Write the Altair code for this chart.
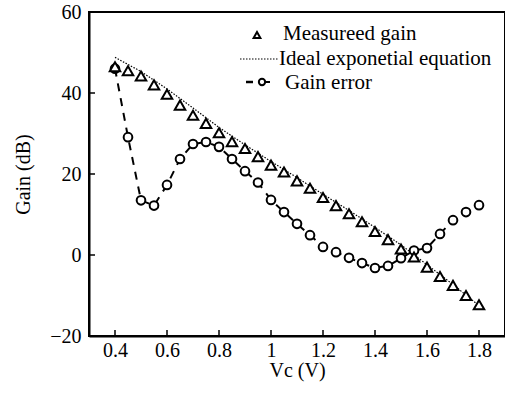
import altair as alt
import pandas as pd

vc = [0.4, 0.45, 0.5, 0.55, 0.6, 0.65, 0.7, 0.75, 0.8, 0.85, 0.9, 0.95, 1.0, 1.05,
      1.1, 1.15, 1.2, 1.25, 1.3, 1.35, 1.4, 1.45, 1.5, 1.55, 1.6, 1.65, 1.7, 1.75, 1.8]
measured = [46.5, 45.5, 44.2, 42.0, 39.7, 37.0, 34.5, 32.5, 30.2, 28.0, 26.3, 24.3, 22.2, 20.5,
            18.3, 16.5, 14.2, 12.2, 10.2, 8.2, 5.8, 3.8, 1.5, -0.5, -3.0, -5.3, -7.5, -10.0, -12.3]
gain_error = [46.0, 29.1, 13.5, 12.2, 17.3, 23.7, 27.4, 27.9, 26.7, 23.7, 20.7, 17.9, 13.6, 10.6,
              7.7, 4.9, 2.0, 0.7, -0.7, -2.0, -3.2, -2.7, -0.8, 1.1, 1.7, 5.2, 8.6, 10.6, 12.3]
ideal_vc = [0.4, 0.5, 0.6, 0.7, 0.8, 0.9, 1.0, 1.1, 1.2, 1.3, 1.4, 1.5, 1.6, 1.7, 1.8]
ideal = [48.8, 45.3, 41.0, 36.3, 31.5, 27.2, 23.1, 19.1, 15.0, 11.0, 6.8, 2.5, -2.4, -7.3, -12.5]
x_ticks = [0.4, 0.6, 0.8, 1.0, 1.2, 1.4, 1.6, 1.8]
y_ticks = [-20, 0, 20, 40, 60]

FONT = "Liberation Serif"
W, H = 416, 324

df = pd.DataFrame({"vc": vc, "measured": measured, "err": gain_error})
di = pd.DataFrame({"vc": ideal_vc, "ideal": ideal})

xs = alt.Scale(domain=[0.3, 1.9], nice=False, zero=False)
ys = alt.Scale(domain=[-20, 60], nice=False, zero=False)

xax = alt.Axis(values=x_ticks, labelExpr="format(datum.value, '.1~f')", ticks=False,
               grid=False, labelFont=FONT, labelFontSize=20, labelColor="black",
               labelPadding=4, domainColor="black", domainWidth=2,
               title="Vc (V)", titleFont=FONT, titleFontSize=20, titleFontWeight="normal",
               titleColor="black", titlePadding=0)
yax = alt.Axis(values=y_ticks, ticks=False, grid=False, labelFont=FONT, labelFontSize=20,
               labelColor="black", labelPadding=8, domainColor="black", domainWidth=2,
               title="Gain (dB)", titleFont=FONT, titleFontSize=20, titleFontWeight="normal",
               titleColor="black", titlePadding=16)

base = alt.Chart(df)

ideal_line = alt.Chart(di).mark_line(color="black", strokeWidth=1.2, strokeDash=[1.5, 1.5]).encode(
    x=alt.X("vc:Q", scale=xs, axis=xax), y=alt.Y("ideal:Q", scale=ys, axis=yax))

err_line = base.mark_line(color="black", strokeWidth=2, strokeDash=[8, 7]).encode(
    x=alt.X("vc:Q", scale=xs), y=alt.Y("err:Q", scale=ys))
err_pts = base.mark_point(shape="circle", size=75, filled=False, color="black", fill="white",
                          fillOpacity=1, strokeWidth=2, opacity=1).encode(
    x=alt.X("vc:Q", scale=xs), y=alt.Y("err:Q", scale=ys))
meas_pts = base.mark_point(shape="triangle-up", size=110, filled=False, color="black", fill="white",
                           fillOpacity=1, strokeWidth=2, opacity=1).encode(
    x=alt.X("vc:Q", scale=xs), y=alt.Y("measured:Q", scale=ys))

xt = alt.Chart(pd.DataFrame({"t": x_ticks})).mark_rule(color="black", strokeWidth=1.5).encode(
    x=alt.X("t:Q", scale=xs), y=alt.value(H), y2=alt.value(H - 6))
yt = alt.Chart(pd.DataFrame({"t": y_ticks})).mark_rule(color="black", strokeWidth=1.5).encode(
    y=alt.Y("t:Q", scale=ys), x=alt.value(0), x2=alt.value(6))

# legend
leg_labels = ["Measureed gain", "Ideal exponetial equation", "Gain error"]
leg_x = [194, 190, 196]
leg_y = [22, 47, 71]
leg_df = pd.DataFrame({"label": leg_labels, "lx": leg_x, "ly": leg_y})
leg_text = alt.Chart(leg_df).mark_text(align="left", baseline="middle", font=FONT, fontSize=21,
                                       color="black").encode(
    x=alt.X("lx:Q", scale=None), y=alt.Y("ly:Q", scale=None), text="label:N")
leg_tri = alt.Chart(pd.DataFrame({"a": [0]})).mark_point(shape="triangle-up", size=45, filled=False,
                                                           color="black", strokeWidth=2, opacity=1).encode(
    x=alt.value(168), y=alt.value(23))
leg_dot = alt.Chart(pd.DataFrame({"a": [0]})).mark_rule(color="black", strokeWidth=1.2,
                                                         strokeDash=[1.5, 1.5]).encode(
    x=alt.value(151), x2=alt.value(189), y=alt.value(47))
leg_dash = alt.Chart(pd.DataFrame({"a": [0]})).mark_rule(color="black", strokeWidth=2.5).encode(
    x=alt.value(157), x2=alt.value(164), y=alt.value(70))
leg_dash2 = alt.Chart(pd.DataFrame({"a": [0]})).mark_rule(color="black", strokeWidth=2).encode(
    x=alt.value(173), x2=alt.value(181), y=alt.value(70))
leg_circ = alt.Chart(pd.DataFrame({"a": [0]})).mark_point(shape="circle", size=40, filled=False,
                                                           color="black", fill="white", fillOpacity=1,
                                                           strokeWidth=2, opacity=1).encode(
    x=alt.value(173), y=alt.value(70))

chart = alt.layer(ideal_line, err_line, err_pts, meas_pts, xt, yt,
                  leg_dot, leg_dash, leg_dash2, leg_circ, leg_tri, leg_text).properties(
    width=W, height=H,
    padding={"left": 89, "top": 12, "right": 0, "bottom": 62},
    autosize=alt.AutoSizeParams(type="none"),
    background="white",
).configure_view(stroke="black", strokeWidth=2)

chart.save("out.html", embed_options={"renderer": "svg", "actions": False})
